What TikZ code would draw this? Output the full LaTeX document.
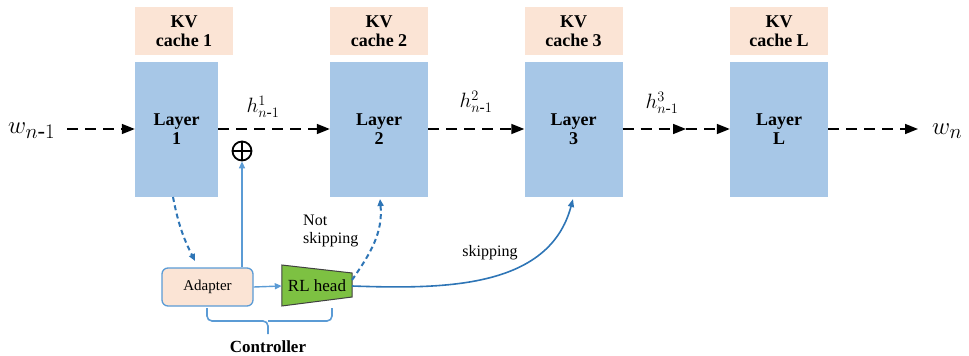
\documentclass[tikz,border=0pt]{standalone}
\usepackage{amsmath}
\usepackage{fontspec}
\IfFontExistsTF{LiberationSerif-Regular.ttf}{%
  \setmainfont{LiberationSerif}[Extension=.ttf,UprightFont=*-Regular,BoldFont=*-Bold,ItalicFont=*-Italic,BoldItalicFont=*-BoldItalic]}{}
\usetikzlibrary{arrows.meta,calc}
\definecolor{layerblue}{HTML}{A7C7E7}
\definecolor{cachepeach}{HTML}{FBE4D5}
\definecolor{rlgreen}{HTML}{7DC142}
\definecolor{arrblue}{HTML}{2E75B6}
\definecolor{lightarr}{HTML}{5B9BD5}
\begin{document}
\begin{tikzpicture}[x=1pt,y=-1pt,
  cachebox/.style={fill=cachepeach, minimum width=98pt, minimum height=48pt, align=center, inner sep=0pt, font=\fontsize{18}{19}\selectfont\bfseries},
  layerbox/.style={fill=layerblue, minimum width=98pt, minimum height=135pt, align=center, inner sep=0pt, font=\fontsize{18}{19}\selectfont\bfseries},
  dasharrow/.style={draw=black, line width=1.6pt, dash pattern=on 11pt off 7pt, -{Triangle[length=13pt,width=10pt]}},
  bluedash/.style={draw=arrblue, line width=2pt, dash pattern=on 5pt off 3.5pt, -{Triangle[length=7pt,width=6pt]}},
  bluesolid/.style={draw=arrblue, line width=1.6pt, -{Triangle[length=8pt,width=6pt]}},
  lightsolid/.style={draw=lightarr, line width=1.4pt, -{Triangle[length=7pt,width=6pt]}},
  hlabel/.style={inner sep=0pt, font=\fontsize{22}{24}\selectfont},
  wlabel/.style={inner sep=0pt, font=\fontsize{32}{34}\selectfont},
  smalltext/.style={inner sep=0pt, font=\fontsize{16}{18}\selectfont}
]
\useasboundingbox (0,0) rectangle (969,356);

% KV caches
\node[cachebox] (c1) at (184,31) {KV\\cache 1};
\node[cachebox] (c2) at (379,31) {KV\\cache 2};
\node[cachebox] (c3) at (573.5,31) {KV\\cache 3};
\node[cachebox] (cL) at (779,31) {KV\\cache L};

% Layers
\node[layerbox, minimum width=83pt] (l1) at (176.5,129) {Layer\\1};
\node[layerbox] (l2) at (379,129) {Layer\\2};
\node[layerbox] (l3) at (573.5,129) {Layer\\3};
\node[layerbox] (lL) at (779,129) {Layer\\L};

% inputs / outputs
\node[wlabel, anchor=west] (win) at (8,131) {$w_{n\text{-}1}$};
\node[wlabel, anchor=west] (wout) at (932,131) {$w_{n}$};
\coordinate (inS) at (67,129);
\coordinate (outE) at (918,129);
\coordinate (m3) at (686,129);

\draw[dasharrow] (inS) -- (l1.west);
\draw[dasharrow] (l1.east) -- (l2.west);
\draw[dasharrow] (l2.east) -- (l3.west);
\draw[dasharrow] (l3.east) -- (m3);
\draw[dasharrow] (m3) -- (lL.west);
\draw[dasharrow] (lL.east) -- (outE);

% h labels
\node[hlabel] (h1) at (263,107) {$h^{1}_{n\text{-}1}$};
\node[hlabel] (h2) at (476,102) {$h^{2}_{n\text{-}1}$};
\node[hlabel] (h3) at (662,103) {$h^{3}_{n\text{-}1}$};

% oplus
\node[circle, draw=black, line width=1.8pt, minimum size=19pt, inner sep=0pt] (op) at (242,151) {};
\draw[line width=1.8pt] (op.north) -- (op.south) (op.west) -- (op.east);

% controller
\node[draw=lightarr, line width=1.3pt, fill=cachepeach, rounded corners=6pt, minimum width=91pt, minimum height=38pt, inner sep=0pt, font=\fontsize{15}{17}\selectfont] (ad) at (207.5,287) {Adapter};
\node[minimum width=70pt, minimum height=26pt, inner sep=0pt] (rl) at (317,286) {};
\draw[fill=rlgreen, draw=black!75, line width=1pt]
  ($(rl.west)+(0,-21)$) -- ($(rl.east)+(0,-13)$) -- ($(rl.east)+(0,11)$) -- ($(rl.west)+(0,20)$) -- cycle;
\node[inner sep=0pt, font=\fontsize{17}{19}\selectfont] (rltext) at (rl.center) {RL head};

\draw[lightsolid] (ad.east) -- (rl.west);

\coordinate (adtop) at (op |- ad.north);
\draw[lightsolid] (adtop) -- (op.south);

\coordinate (l1s) at (173,197);
\coordinate (adin) at (195,261);
\draw[bluedash] (l1s) to[bend right=8] (adin);

\coordinate (rlns) at (352,280);
\coordinate (l2in) at (380,199);
\draw[bluedash] (rlns) to[out=55,in=-85] (l2in);

\coordinate (rlsk) at (352,286);
\coordinate (l3in) at (573,199);
\draw[bluesolid] (rlsk) to[out=-2,in=-105] (l3in);

\node[smalltext, align=left, anchor=west] (nots) at (303,231) {Not\\skipping};
\node[smalltext] (sk) at (490,253) {skipping};

% brace
\coordinate (bl) at (207,308);
\coordinate (br) at (332,308);
\coordinate (bt) at (268,334);
\draw[draw=lightarr, line width=1.6pt, rounded corners=5pt]
  (bl) -- (207,321) -- (268,321) -- (bt);
\draw[draw=lightarr, line width=1.6pt, rounded corners=5pt]
  (br) -- (332,321) -- (268,321);
\node[inner sep=0pt, font=\fontsize{17}{19}\selectfont\bfseries] (ctrl) at (268,347) {Controller};

\end{tikzpicture}
\end{document}
